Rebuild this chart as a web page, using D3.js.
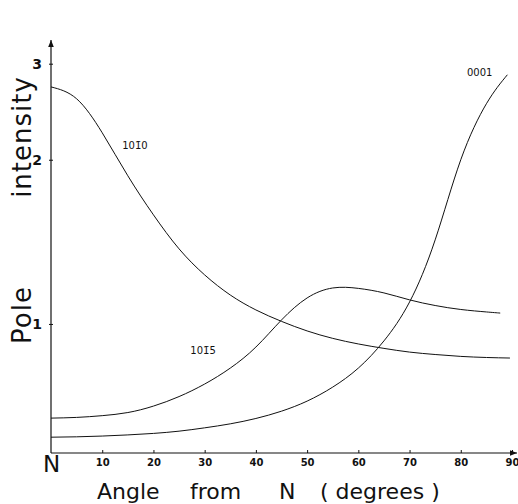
<!DOCTYPE html>
<html>
<head>
<meta charset="utf-8">
<script src="https://cdn.jsdelivr.net/npm/d3@7"></script>
<style>
  body { margin: 0; background: #fff; }
  svg { display: block; }
  text { font-family: 'DejaVu Sans', sans-serif; fill: #111; }
</style>
</head>
<body>
<svg width="518" height="504"></svg>
<script>
'use strict'

// angle from N (degrees) / pole intensity
const angles = [0, 5, 10, 15, 20, 25, 30, 35, 40, 45, 50, 55, 60, 65, 70, 75, 80, 85]

const values1010 = [2.72, 2.587, 2.241, 1.869, 1.585, 1.373, 1.23, 1.13, 1.061, 1.011, 0.971, 0.941, 0.919, 0.902, 0.888, 0.879, 0.872, 0.868]
const end1010 = [89.6, 0.866]

const values1015 = [0.672, 0.674, 0.679, 0.688, 0.707, 0.736, 0.776, 0.83, 0.907, 1.017, 1.116, 1.164, 1.162, 1.14, 1.107, 1.081, 1.063, 1.052]
const end1015 = [87.7, 1.047]

const values0001 = [0.62, 0.621, 0.623, 0.626, 0.63, 0.636, 0.645, 0.656, 0.671, 0.692, 0.722, 0.766, 0.83, 0.931, 1.097, 1.426, 2.0, 2.533]
const end0001 = [89.1, 2.863]

const seriesNames = ['101\u03040', '101\u03045', '0001']
const xTicks = [0, 10, 20, 30, 40, 50, 60, 70, 80, 90]
const yTicks = [1, 2, 3]

const svg = d3.select('body svg')

const xScale = d3.scaleLinear().domain([0, 90]).range([51, 512])
const yScale = d3.scaleLog().domain([0.58, 3.26]).range([453, 44])

const defs = svg.append('defs')
defs.append('marker')
  .attr('id', 'arrow')
  .attr('viewBox', '0 0 10 10')
  .attr('refX', 10).attr('refY', 5)
  .attr('markerWidth', 7).attr('markerHeight', 7)
  .attr('markerUnits', 'userSpaceOnUse')
  .attr('orient', 'auto')
  .append('path').attr('d', 'M0,1L10,5L0,9Z').attr('fill', '#111')

// axis lines with arrows
svg.append('line')
  .attr('x1', xScale(0)).attr('y1', yScale.range()[0])
  .attr('x2', xScale(0)).attr('y2', yScale.range()[1] - 4)
  .attr('stroke', '#111').attr('stroke-width', 1.2)
  .attr('marker-end', 'url(#arrow)')
svg.append('line')
  .attr('x1', xScale(0)).attr('y1', yScale.range()[0])
  .attr('x2', 517).attr('y2', yScale.range()[0])
  .attr('stroke', '#111').attr('stroke-width', 1.2)
  .attr('marker-end', 'url(#arrow)')

const xAxis = d3.axisBottom(xScale)
  .tickValues(xTicks)
  .tickFormat((d) => d === 0 ? 'N' : d)
  .tickSize(-3)
  .tickPadding(6)
const xG = svg.append('g').attr('transform', `translate(0, ${yScale.range()[0]})`).call(xAxis)
xG.select('path.domain').remove()
xG.selectAll('line').attr('stroke', '#111')
xG.selectAll('text')
  .attr('dy', '0.71em')
  .style('font-size', '10px')
  .style('font-weight', 'bold')
xG.selectAll('g.tick').filter((d) => d === 0).select('text')
  .style('font-size', '23px')
  .style('font-weight', 'normal')
  .attr('y', 3)
xG.selectAll('g.tick').filter((d) => d === 0).select('line').remove()

const yAxis = d3.axisLeft(yScale)
  .tickValues(yTicks)
  .tickFormat(d3.format('d'))
  .tickSize(3)
  .tickPadding(6)
const yG = svg.append('g').attr('transform', `translate(${xScale(0)}, 0)`).call(yAxis)
yG.select('path.domain').remove()
yG.selectAll('line').attr('stroke', '#111').attr('x2', 2).attr('x1', -2)
yG.selectAll('text')
  .style('font-size', '14px')
  .style('font-weight', 'bold')

// curves
const line = d3.line()
  .x((d) => xScale(d[0]))
  .y((d) => yScale(d[1]))
  .curve(d3.curveNatural)

const series = [
  d3.zip(angles, values1010).concat([end1010]),
  d3.zip(angles, values1015).concat([end1015]),
  d3.zip(angles, values0001).concat([end0001])
]
svg.append('g').selectAll('path')
  .data(series)
  .enter()
  .append('path')
  .attr('d', line)
  .attr('fill', 'none')
  .attr('stroke', '#111')
  .attr('stroke-width', 1)

// curve labels
const labelPos = [[13.9, 2.09], [27.2, 0.88], [81.2, 2.85]]
svg.append('g').selectAll('text')
  .data(seriesNames)
  .enter()
  .append('text')
  .attr('x', (d, i) => xScale(labelPos[i][0]))
  .attr('y', (d, i) => yScale(labelPos[i][1]))
  .style('font-size', '10px')
  .text((d) => d)

// axis titles
svg.append('text')
  .attr('transform', 'translate(31, 315) rotate(-90)')
  .attr('text-anchor', 'middle')
  .style('font-size', '26px')
  .style('letter-spacing', '1px')
  .text('Pole')
svg.append('text')
  .attr('transform', 'translate(31, 137) rotate(-90)')
  .attr('text-anchor', 'middle')
  .style('font-size', '26px')
  .style('letter-spacing', '1px')
  .text('intensity')

const xTitle = svg.append('text').attr('y', 499).style('font-size', '22px')
const xTitleParts = [['Angle', 97], ['from', 190], ['N', 279], ['( degrees )', 320]]
xTitle.selectAll('tspan')
  .data(xTitleParts)
  .enter()
  .append('tspan')
  .attr('x', (d) => d[1])
  .text((d) => d[0])
</script>
</body>
</html>
